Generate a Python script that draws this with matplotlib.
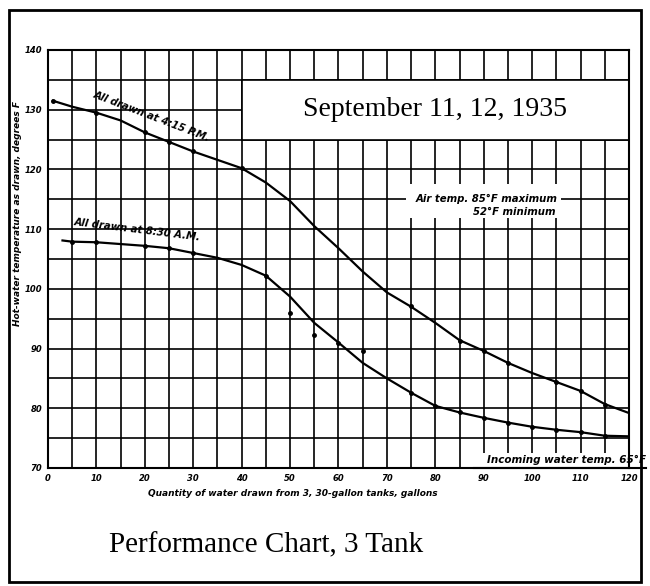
import numpy as np
import matplotlib.pyplot as plt
from matplotlib.patches import Rectangle

# Curve readings (gallons drawn vs hot-water temperature, deg F)
pm_x = [1, 5, 10, 15, 20, 25, 30, 35, 40, 45, 50, 55, 60, 65, 70,
        75, 80, 85, 90, 95, 100, 105, 110, 115, 120]
pm_y = [131.5, 130.5, 129.5, 128.2, 126.2, 124.6, 123.0, 121.6, 120.2, 117.8,
        114.7, 110.5, 106.8, 102.9, 99.4, 97.0, 94.3, 91.4, 89.6, 87.6,
        85.9, 84.4, 82.9, 80.7, 79.2]
pm_pts_x = [1, 10, 20, 25, 30, 40, 75, 85, 90, 95, 105, 110, 115]
pm_pts_y = [131.5, 129.5, 126.2, 124.6, 123.0, 120.2, 97.1, 91.3, 89.6, 87.6, 84.4, 82.9, 80.5]

am_x = [3, 5, 10, 15, 20, 25, 30, 35, 40, 45, 50, 55, 60, 65, 70,
        75, 80, 85, 90, 95, 100, 105, 110, 115, 120]
am_y = [108.1, 107.9, 107.8, 107.5, 107.2, 106.8, 106.0, 105.2, 104.0, 102.2,
        98.7, 94.3, 91.0, 87.6, 85.0, 82.6, 80.4, 79.3, 78.4, 77.6,
        76.9, 76.4, 76.0, 75.4, 75.3]
am_pts_x = [5, 10, 20, 25, 30, 45, 50, 55, 60, 65, 75, 80, 85, 90, 95, 100, 105, 110, 115]
am_pts_y = [107.9, 107.8, 107.2, 106.8, 106.0, 102.2, 96.0, 92.3, 91.0, 89.6,
            82.6, 80.4, 79.3, 78.4, 77.6, 76.9, 76.4, 76.0, 75.4]

x_ticks = list(range(0, 121, 10))
y_ticks = list(range(70, 141, 10))

hand = dict(family='DejaVu Sans', weight='bold', style='italic')

fig = plt.figure(figsize=(6.5, 5.86), dpi=100)
ax = fig.add_axes([0.0738, 0.2014, 0.8939, 0.7133])
ax.set_xlim(0, 120)
ax.set_ylim(70, 140)

# heavy grid every 5 units
for gx in range(0, 121, 5):
    ax.axvline(gx, color='black', lw=1.2, zorder=1)
for gy in range(70, 141, 5):
    ax.axhline(gy, color='black', lw=1.2, zorder=1)
for s in ax.spines.values():
    s.set_linewidth(1.5)

ax.set_xticks(x_ticks)
ax.set_yticks(y_ticks)
ax.tick_params(length=0, pad=4)
ax.set_xticklabels([str(v) for v in x_ticks], fontsize=6, **hand)
ax.set_yticklabels([str(v) for v in y_ticks], fontsize=6, **hand)

# white panels covering the grid
ax.add_patch(Rectangle((40, 125), 80, 10, facecolor='white', edgecolor='black',
                       lw=1.2, zorder=2))
ax.add_patch(Rectangle((74, 111.8), 32, 5.8, facecolor='white', edgecolor='none', zorder=2))
ax.add_patch(Rectangle((88, 70.2), 33, 2.3, facecolor='white', edgecolor='none',
                       zorder=2, clip_on=False))
ax.plot([88, 123.5], [70, 70], color='black', lw=1.5, clip_on=False, zorder=3)

ax.plot(pm_x, pm_y, color='black', lw=1.6, zorder=4)
ax.plot(am_x, am_y, color='black', lw=1.6, zorder=4)
ax.plot(pm_pts_x, pm_pts_y, 'o', color='black', ms=2.5, zorder=5)
ax.plot(am_pts_x, am_pts_y, 'o', color='black', ms=2.5, zorder=5)

ax.text(80, 130, 'September 11, 12, 1935', family='Liberation Serif', fontsize=20,
        ha='center', va='center', zorder=6)
ax.text(21.5, 128.9, 'All drawn at 4:15 P.M.', fontsize=7.3, rotation=-21,
        ha='center', va='center', zorder=6, **hand)
ax.text(18.5, 109.9, 'All drawn at 8:30 A.M.', fontsize=7.3, rotation=-7,
        ha='center', va='center', zorder=6, **hand)
ax.text(105.3, 115.0, 'Air temp. 85°F maximum', fontsize=7.3, ha='right',
        va='center', zorder=6, **hand)
ax.text(104.8, 112.8, '52°F minimum', fontsize=7.3, ha='right',
        va='center', zorder=6, **hand)
ax.text(123.5, 71.3, 'Incoming water temp. 65°F', fontsize=7.5, ha='right',
        va='center', zorder=6, clip_on=False, **hand)

fig.text(0.451, 0.158, 'Quantity of water drawn from 3, 30-gallon tanks, gallons',
         fontsize=6.5, ha='center', va='center', **hand)
fig.text(0.027, 0.635, 'Hot-water temperature as drawn, degrees F', fontsize=6.5,
         rotation=90, ha='center', va='center', **hand)
fig.text(0.41, 0.07, 'Performance Chart, 3 Tank', family='Liberation Serif',
         fontsize=21, ha='center', va='center')

fig.add_artist(Rectangle((0.014, 0.007), 0.972, 0.976, transform=fig.transFigure,
                         fill=False, edgecolor='black', lw=2))

fig.savefig('out.png', dpi=100)
